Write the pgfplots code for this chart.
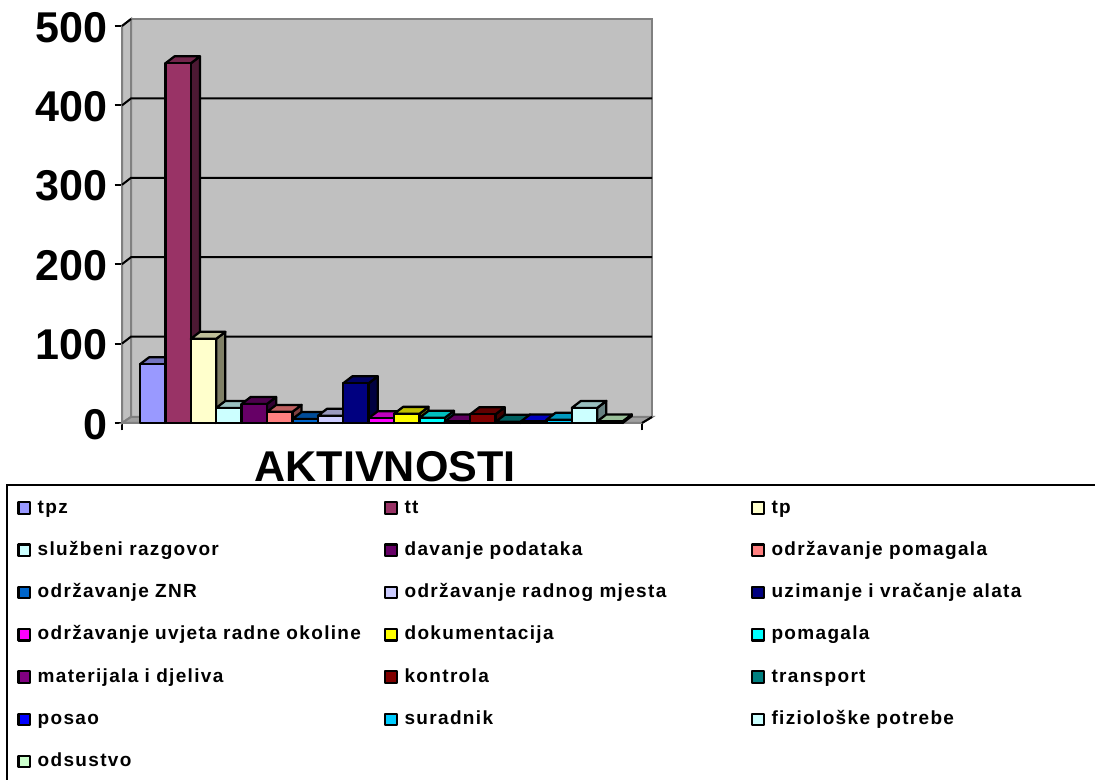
\documentclass[border=0pt]{standalone}
\usepackage{fontspec}
\usepackage{pgfplots}
\pgfplotsset{compat=1.18}
\setmainfont{Liberation Sans}
\newfontfamily\legfont[LetterSpace=7]{Liberation Sans}
\definecolor{wallc}{HTML}{C0C0C0}
\definecolor{wallb}{HTML}{808080}
\definecolor{floorc}{HTML}{A0A0A0}
\definecolor{9999FF}{HTML}{9999FF}
\definecolor{993366}{HTML}{993366}
\definecolor{FFFFCC}{HTML}{FFFFCC}
\definecolor{CCFFFF}{HTML}{CCFFFF}
\definecolor{660066}{HTML}{660066}
\definecolor{FF8080}{HTML}{FF8080}
\definecolor{0066CC}{HTML}{0066CC}
\definecolor{CCCCFF}{HTML}{CCCCFF}
\definecolor{000080}{HTML}{000080}
\definecolor{FF00FF}{HTML}{FF00FF}
\definecolor{FFFF00}{HTML}{FFFF00}
\definecolor{00FFFF}{HTML}{00FFFF}
\definecolor{800080}{HTML}{800080}
\definecolor{800000}{HTML}{800000}
\definecolor{008080}{HTML}{008080}
\definecolor{0000FF}{HTML}{0000FF}
\definecolor{00CCFF}{HTML}{00CCFF}
\definecolor{CCFFCC}{HTML}{CCFFCC}
% one bar: index, value, colour
\newcommand\tdbar[3]{%
  \pgfmathsetmacro\xa{#1}%
  \pgfmathsetmacro\xb{#1+1}%
  \pgfmathsetmacro\xc{#1+1+0.36}%
  \pgfmathsetmacro\xd{#1+0.36}%
  \pgfmathsetmacro\yt{#2}%
  \pgfmathsetmacro\yu{#2+8.8}%
  \addplot[forget plot,fill=#3!50!black,draw=black,line width=1.7pt,line join=round] coordinates {(\xb,0)(\xc,8.8)(\xc,\yu)(\xb,\yt)} --cycle;
  \addplot[forget plot,fill=#3!75!black,draw=black,line width=1.7pt,line join=round] coordinates {(\xa,\yt)(\xd,\yu)(\xc,\yu)(\xb,\yt)} --cycle;
  \addplot[fill=#3,draw=black,line width=1.7pt,line join=round] coordinates {(\xa,0)(\xa,\yt)(\xb,\yt)(\xb,0)} --cycle;
}
\begin{document}
\begin{tikzpicture}
\clip (0pt,0pt) rectangle (821.25pt,585pt);
\begin{axis}[
  at={(91.5pt,267.75pt)},anchor=south west,
  scale only axis,width=390pt,height=297.75pt,
  xmin=-0.7087,xmax=19.764,ymin=0,ymax=500,
  clip=false,
  axis x line=bottom,axis y line=left,
  axis line style={-,black,line width=1.5pt},
  tick style={black,line width=1.5pt},
  major tick length=5.5pt,
  tick align=outside,
  xtick={-0.7087,19.764},xticklabels={},
  ytick={0,100,200,300,400,500},
  yticklabel style={font=\fontsize{32.3}{33}\selectfont\bfseries,/pgf/number format/assume math mode=true,inner sep=0pt,xshift=-5pt,yshift=-1pt},
  xlabel={AKTIVNOSTI},
  xlabel style={font=\fontsize{32.3}{33}\selectfont\bfseries,at={(axis description cs:0.506,-0.07)},anchor=north,inner sep=0pt},
  legend columns=3,
  legend cell align=left,
  legend image code/.code={\draw[#1,line width=1.6pt,draw=black] (0,-4.3pt) rectangle (8.6pt,4.3pt);},
  legend style={
    at={(axis description cs:-0.2231,-0.1537)},anchor=north west,
    draw=black,line width=1.5pt,fill=white,
    font=\fontsize{14.25}{16}\legfont\bfseries,
    inner xsep=7.8pt,inner ysep=10pt,
    row sep=17.2pt,
    nodes={inner sep=0pt,text height=11pt,text depth=3.5pt,text width=260pt,align=left,line width=0pt},
    /tikz/every odd column/.append style={column sep=5pt},
  },
]
% walls and floor
\addplot[forget plot,fill=wallc,draw=wallb,line width=1.5pt] coordinates {(-0.354,7.6)(-0.354,508.8)(20.16,508.8)(20.16,7.6)} --cycle;
\addplot[forget plot,fill=wallc,draw=wallb,line width=1.5pt] coordinates {(-0.7087,0)(-0.7087,500)(-0.354,508.8)(-0.354,7.6)} --cycle;
\addplot[forget plot,fill=floorc,draw=wallb,line width=1.5pt] coordinates {(-0.7087,0)(19.764,0)(20.16,7.6)(-0.354,7.6)} --cycle;
% gridlines on the back wall
\addplot[forget plot,black,line width=1.5pt] coordinates {(-0.7087,100)(-0.354,108.8)(20.16,108.8)};
\addplot[forget plot,black,line width=1.5pt] coordinates {(-0.7087,200)(-0.354,208.8)(20.16,208.8)};
\addplot[forget plot,black,line width=1.5pt] coordinates {(-0.7087,300)(-0.354,308.8)(20.16,308.8)};
\addplot[forget plot,black,line width=1.5pt] coordinates {(-0.7087,400)(-0.354,408.8)(20.16,408.8)};
\addplot[forget plot,black,line width=1.5pt] coordinates {(-0.7087,500)(-0.354,508.8)};
\addplot[forget plot,black,line width=1.5pt] coordinates {(19.764,0)(20.16,7.6)};
\tdbar{0}{74}{9999FF}\addlegendentry{tpz}
\tdbar{1}{453}{993366}\addlegendentry{tt}
\tdbar{2}{106}{FFFFCC}\addlegendentry{tp}
\tdbar{3}{19}{CCFFFF}\addlegendentry{službeni razgovor}
\tdbar{4}{24}{660066}\addlegendentry{davanje podataka}
\tdbar{5}{14}{FF8080}\addlegendentry{održavanje pomagala}
\tdbar{6}{5}{0066CC}\addlegendentry{održavanje ZNR}
\tdbar{7}{9}{CCCCFF}\addlegendentry{održavanje radnog mjesta}
\tdbar{8}{50}{000080}\addlegendentry{uzimanje i vračanje alata}
\tdbar{9}{6}{FF00FF}\addlegendentry{održavanje uvjeta radne okoline}
\tdbar{10}{11.5}{FFFF00}\addlegendentry{dokumentacija}
\tdbar{11}{6.5}{00FFFF}\addlegendentry{pomagala}
\tdbar{12}{2}{800080}\addlegendentry{materijala i djeliva}
\tdbar{13}{11}{800000}\addlegendentry{kontrola}
\tdbar{14}{1.5}{008080}\addlegendentry{transport}
\tdbar{15}{2}{0000FF}\addlegendentry{posao}
\tdbar{16}{4}{00CCFF}\addlegendentry{suradnik}
\tdbar{17}{19}{CCFFFF}\addlegendentry{fiziološke potrebe}
\tdbar{18}{2}{CCFFCC}\addlegendentry{odsustvo}
\end{axis}
\end{tikzpicture}
\end{document}
